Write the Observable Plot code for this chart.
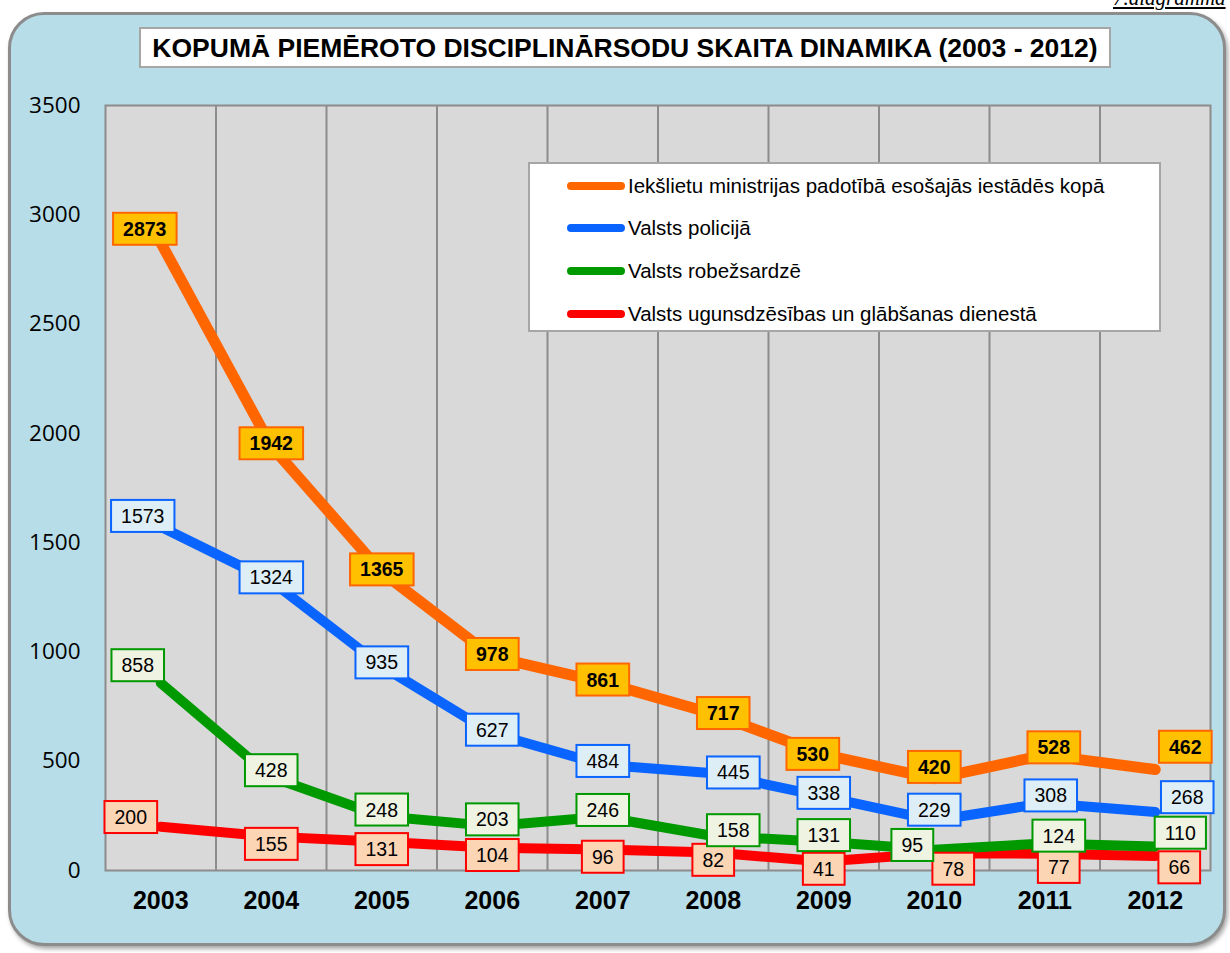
<!DOCTYPE html>
<html><head><meta charset="utf-8">
<script src="https://cdn.jsdelivr.net/npm/d3@7"></script>
<script src="https://cdn.jsdelivr.net/npm/@observablehq/plot@0.6"></script>
<style>
body{margin:0;background:#fff;font-family:"Liberation Sans",Arial,sans-serif;}
#wrap{position:relative;width:1230px;height:953px;overflow:hidden;background:#fff;}
#frame{position:absolute;left:8px;top:12px;width:1212px;height:928px;border-radius:36px;background:#B7DDE8;border:3px solid #8C8C8C;box-shadow:2px 3px 4px rgba(0,0,0,0.35);}
#corner{position:absolute;left:1113px;top:-14px;font:italic 21px "Liberation Serif","Times New Roman",serif;text-decoration:underline;color:#000;white-space:nowrap;}
#title{position:absolute;left:139px;top:27px;width:968px;height:37px;background:#fff;border:2px solid #A6A6A6;font:bold 26.5px "Liberation Sans",Arial,sans-serif;text-align:center;line-height:38px;color:#000;white-space:nowrap;}
#chart{position:absolute;left:0;top:0;}
#legend{position:absolute;left:528px;top:162px;width:629px;height:166px;background:#fff;border:2px solid #A6A6A6;}
.item{position:absolute;left:37px;height:22px;font:20.5px "Liberation Sans",Arial,sans-serif;color:#000;white-space:nowrap;}
.sw{position:absolute;left:0;top:7px;width:58px;height:8px;border-radius:4px;}
.it{position:absolute;left:61px;top:-1px;}
</style></head>
<body><div id="wrap">
<div id="frame"></div>
<div id="corner">7.diagramma</div>
<div id="chart"></div>
<div id="title"></div>
<div id="legend"></div>
</div>
<script>
const years = [2003,2004,2005,2006,2007,2008,2009,2010,2011,2012];
const seriesNames = [
  "Iekšlietu ministrijas padotībā esošajās iestādēs kopā",
  "Valsts policijā",
  "Valsts robežsardzē",
  "Valsts ugunsdzēsības un glābšanas dienestā"
];
const totalValues   = [2873,1942,1365,978,861,717,530,420,528,462];
const policeValues  = [1573,1324,935,627,484,445,338,229,308,268];
const borderValues  = [858,428,248,203,246,158,131,95,124,110];
const fireValues    = [200,155,131,104,96,82,41,78,77,66];
const yTicks = [0,500,1000,1500,2000,2500,3000,3500];
const titleText = "KOPUMĀ PIEMĒROTO DISCIPLINĀRSODU SKAITA DINAMIKA (2003 - 2012)";

const allValues = [totalValues, policeValues, borderValues, fireValues];
const lineColors = ["#FF6600","#0A64FF","#009900","#FF0000"];
const boxFills   = ["#FFC000","#DDEEF7","#EEF3E2","#FCD5B5"];
const boxStrokes = ["#FF6600","#0A64FF","#009900","#FF0000"];

// label placement (Excel-style manual label moves), series index -> year -> [dx, dy]
const labelDy = [-2, -3, -6, 8];
const nudges = {
  0: {2003: [-16, -13], 2008: [10, 0], 2009: [-11, 0], 2010: [0, -11], 2011: [9, -7], 2012: [30, -22]},
  1: {2003: [-18, -10], 2008: [20, 0], 2010: [0, -10], 2011: [6, -7], 2012: [32, -14]},
  2: {2003: [-23, -17], 2008: [20, -5], 2010: [-22, -4], 2011: [14, -7], 2012: [25, -13]},
  3: {2003: [-30, -9], 2010: [19, 16], 2011: [14, 14], 2012: [24, 12]}
};

document.getElementById("title").textContent = titleText;

const rows = [];
allValues.forEach((vals, s) => vals.forEach((v, i) => rows.push({series: s, name: seriesNames[s], year: years[i], value: v})));

const gridX = years.slice(0, -1).map(y => y + 0.5);
const drawOrder = [3,2,1,0];

const marks = [
  Plot.frame({fill: "#D9D9D9", stroke: "none"}),
  Plot.ruleX(gridX, {stroke: "#8C8C8C", strokeWidth: 2}),
  Plot.frame({stroke: "#8C8C8C", strokeWidth: 2}),
  Plot.axisY({ticks: yTicks, tickSize: 0, tickPadding: 25, tickFormat: d => String(d), fontSize: 22.5, fontFamily: "'Open Sans', sans-serif", label: null}),
  Plot.axisX({ticks: years, tickSize: 0, tickPadding: 21, tickFormat: d => String(d), fontSize: 25, fontWeight: "bold", label: null}),
];
drawOrder.forEach(s => {
  marks.push(Plot.line(rows.filter(r => r.series === s), {x: "year", y: "value", stroke: lineColors[s], strokeWidth: s === 0 ? 11 : 10, strokeLinecap: "round", strokeLinejoin: "round"}));
});
drawOrder.forEach(s => {
  const data = rows.filter(r => r.series === s);
  const groups = d3.groups(data, r => {
    const n = nudges[s][r.year];
    return n ? n.join(",") : "0," + labelDy[s];
  });
  groups.forEach(([key, g]) => {
    const [dx, dy] = key.split(",").map(Number);
    marks.push(Plot.text(g, {x: "year", y: "value", text: d => String(d.value), fontSize: 19.5, fill: "#000",
      fontWeight: s === 0 ? "bold" : "normal", className: "lbl-" + s, dx, dy}));
  });
});

const chart = Plot.plot({
  width: 1230, height: 953,
  marginLeft: 105, marginRight: 20, marginTop: 105, marginBottom: 83,
  style: {background: "transparent", fontFamily: "'Liberation Sans', Arial, sans-serif", color: "#000", overflow: "visible"},
  x: {type: "linear", domain: [years[0] - 0.5, years[years.length-1] + 0.5]},
  y: {domain: [0, 3500]},
  marks
});
document.getElementById("chart").appendChild(chart);

// boxes behind labels
for (let s = 0; s < 4; s++) {
  chart.querySelectorAll("g.lbl-" + s + " text").forEach(t => {
    const b = t.getBBox();
    const padX = 10, padY = 5;
    const r = document.createElementNS("http://www.w3.org/2000/svg", "rect");
    r.setAttribute("x", b.x - padX);
    r.setAttribute("y", b.y - padY);
    r.setAttribute("width", b.width + 2 * padX);
    r.setAttribute("height", b.height + 2 * padY);
    r.setAttribute("fill", boxFills[s]);
    r.setAttribute("stroke", boxStrokes[s]);
    r.setAttribute("stroke-width", 2);
    if (t.getAttribute("transform")) r.setAttribute("transform", t.getAttribute("transform"));
    t.parentNode.insertBefore(r, t);
  });
}

// legend
const legend = document.getElementById("legend");
const legendTops = [11, 53, 96, 139];
seriesNames.forEach((n, i) => {
  const it = document.createElement("div");
  it.className = "item";
  it.style.top = legendTops[i] + "px";
  it.innerHTML = `<div class="sw" style="background:${lineColors[i]}"></div><div class="it"></div>`;
  it.querySelector(".it").textContent = n;
  legend.appendChild(it);
});
</script>
</body></html>
